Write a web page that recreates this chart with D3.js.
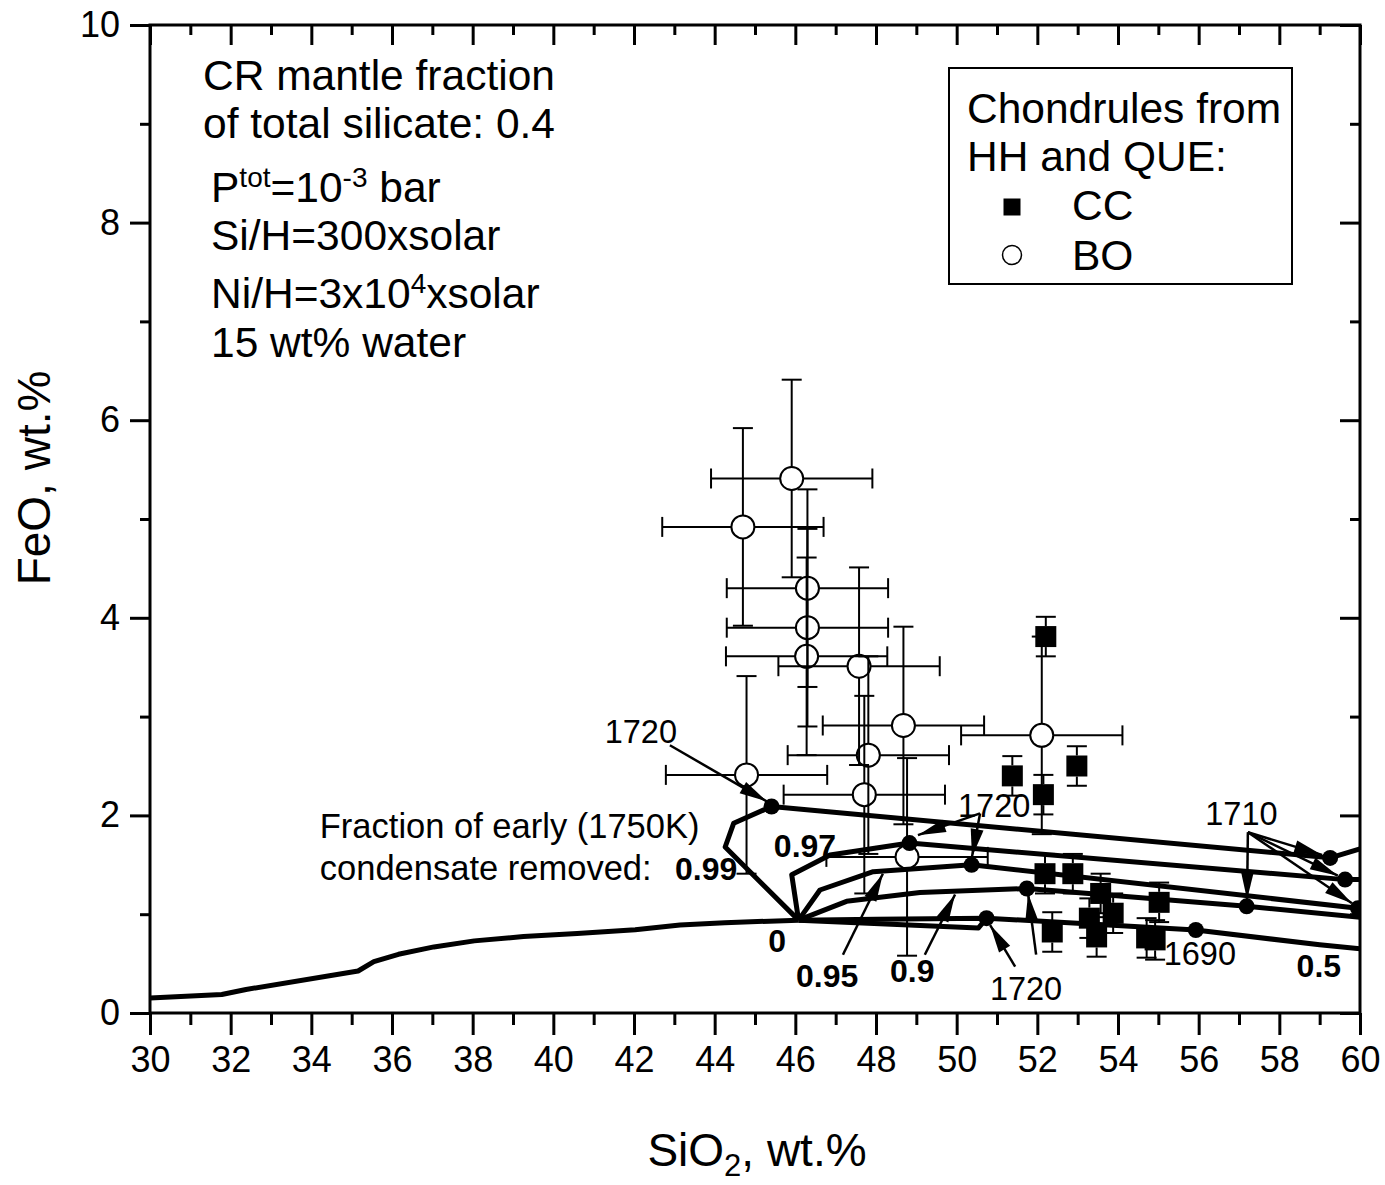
<!DOCTYPE html>
<html>
<head>
<meta charset="utf-8">
<script src="https://cdn.jsdelivr.net/npm/d3@7"></script>
<style>
  body { margin: 0; background: #fff; }
  svg text { font-family: "Liberation Sans", Arial, Helvetica, sans-serif; fill: #000; }
</style>
</head>
<body>
<svg id="chart" width="1385" height="1185"></svg>
<script>
// ---- axis ticks ----
const xMajorTicks = d3.range(30, 61, 2);
const xMinorTicks = d3.range(31, 60, 2);
const yMajorTicks = d3.range(0, 11, 2);
const yMinorTicks = d3.range(1, 10, 2);

// ---- BO chondrules (open circles): SiO2, FeO and their errors ----
const boSiO2    = [44.70, 45.91, 46.30, 46.30, 46.28, 47.58, 48.68, 47.81, 47.71, 44.79, 48.77, 52.11];
const boFeO     = [4.92, 5.41, 4.30, 3.90, 3.61, 3.51, 2.91, 2.61, 2.21, 2.41, 1.58, 2.81];
const boSiO2Err = [2.0, 2.0, 2.0, 2.0, 2.0, 2.0, 2.0, 2.0, 2.0, 2.0, 2.0, 2.0];
const boFeOErr  = [1.0, 1.0, 1.0, 1.0, 1.0, 1.0, 1.0, 1.0, 1.0, 1.0, 1.0, 1.0];

// ---- CC chondrules (filled squares) ----
const ccSiO2    = [52.21, 51.38, 52.98, 52.15, 52.19, 52.88, 53.57, 53.88, 53.29, 53.47, 52.37, 55.02, 54.71, 54.92];
const ccFeO     = [3.81, 2.40, 2.50, 2.21, 1.41, 1.41, 1.21, 1.01, 0.96, 0.77, 0.82, 1.12, 0.76, 0.74];
const ccFeOErr  = [0.2, 0.2, 0.2, 0.2, 0.2, 0.2, 0.2, 0.2, 0.2, 0.2, 0.2, 0.2, 0.2, 0.2];

// ---- condensation paths [SiO2, FeO] ----
const pathEarly = [[30.0, 0.153], [31.78, 0.187], [32.38, 0.238], [35.16, 0.425], [35.55, 0.52],
                   [36.16, 0.594], [37.04, 0.669], [38.04, 0.73], [39.26, 0.774], [40.59, 0.805],
                   [42.03, 0.842], [43.14, 0.89], [44.25, 0.914], [46.08, 0.94]];
const path0    = [[46.08, 0.94], [48.0, 0.95], [50.74, 0.96], [55.93, 0.84], [59.0, 0.69], [60.0, 0.65]];
const path05   = [[46.08, 0.94], [50.54, 0.86], [50.74, 0.96]];
const path090  = [[46.08, 0.94], [47.27, 1.13], [49.09, 1.22], [51.74, 1.26], [57.19, 1.08], [60.0, 0.97]];
const path095  = [[46.08, 0.94], [46.61, 1.245], [47.93, 1.43], [50.37, 1.50], [59.95, 1.06]];
const path097  = [[46.08, 0.94], [45.91, 1.40], [46.86, 1.60], [48.83, 1.72], [59.63, 1.35], [60.0, 1.35]];
const path099  = [[46.08, 0.94], [44.26, 1.68], [44.47, 1.92], [45.41, 2.09], [59.26, 1.57], [60.0, 1.66]];

// temperature markers on the paths
const tempDots = [[45.41, 2.09], [48.83, 1.72], [50.37, 1.50], [51.74, 1.26], [50.74, 0.96],
                  [55.93, 0.84], [57.19, 1.08], [59.26, 1.57], [59.63, 1.35], [59.95, 1.06]];

// temperature labels [text, SiO2, FeO]
const tempLabels = [["1720", 42.17, 2.73], ["1720", 50.93, 1.98], ["1720", 51.72, 0.13],
                    ["1690", 56.03, 0.49], ["1710", 57.06, 1.90]];
// removed-fraction labels [text, SiO2, FeO]
const fracLabels = [["0.99", 43.79, 1.35], ["0.97", 46.24, 1.58], ["0", 45.55, 0.62],
                    ["0.95", 46.79, 0.26], ["0.9", 48.90, 0.31], ["0.5", 58.98, 0.36]];

// arrows [fromSiO2, fromFeO, toSiO2, toFeO]
const arrows = [[42.89, 2.71, 45.30, 2.14],
                [50.58, 2.02, 49.04, 1.80],
                [50.58, 2.02, 50.38, 1.58],
                [51.45, 0.47, 50.83, 0.89],
                [51.97, 0.59, 51.77, 1.21],
                [47.18, 0.59, 48.17, 1.41],
                [49.21, 0.59, 49.96, 1.20],
                [57.22, 1.83, 57.20, 1.15],
                [57.22, 1.83, 59.06, 1.60],
                [57.22, 1.83, 59.45, 1.39],
                [57.22, 1.83, 59.80, 1.11]];

// ---------------------------------------------------------------
const svg = d3.select("#chart");
const plotL = 150, plotR = 1360, plotT = 25, plotB = 1013;
const x = d3.scaleLinear().domain([30, 60]).range([plotL, plotR]);
const y = d3.scaleLinear().domain([0, 10]).range([plotB, plotT]);

const defs = svg.append("defs");
defs.append("marker")
  .attr("id", "head")
  .attr("markerUnits", "userSpaceOnUse")
  .attr("markerWidth", 34).attr("markerHeight", 16)
  .attr("viewBox", "-32 -8 34 16")
  .attr("refX", 0).attr("refY", 0)
  .attr("orient", "auto")
  .append("path").attr("d", "M0,0 L-28,-6.5 L-28,6.5 Z").attr("fill", "#000");

defs.append("clipPath").attr("id", "plotClip")
  .append("rect").attr("x", plotL).attr("y", plotT).attr("width", plotR - plotL).attr("height", plotB - plotT);

// ---- axes ----
function styleAxis(g) {
  g.select(".domain").remove();
  g.selectAll(".tick line").attr("stroke", "#000").attr("stroke-width", 3);
}
const tickFont = 36;
svg.append("g").attr("transform", `translate(0,${plotB})`)
  .call(d3.axisBottom(x).tickValues(xMajorTicks).tickSize(22).tickPadding(11).tickFormat(d3.format("d")))
  .call(styleAxis)
  .call(g => g.selectAll("text").attr("font-size", tickFont).attr("font-family", "Liberation Sans"));
svg.append("g").attr("transform", `translate(0,${plotB})`)
  .call(d3.axisBottom(x).tickValues(xMinorTicks).tickSize(12).tickFormat(""))
  .call(styleAxis);
svg.append("g").attr("transform", `translate(${plotL},0)`)
  .call(d3.axisLeft(y).tickValues(yMajorTicks).tickSize(20).tickPadding(10).tickFormat(d3.format("d")))
  .call(styleAxis)
  .call(g => g.selectAll("text").attr("font-size", tickFont).attr("font-family", "Liberation Sans"));
svg.append("g").attr("transform", `translate(${plotL},0)`)
  .call(d3.axisLeft(y).tickValues(yMinorTicks).tickSize(10).tickFormat(""))
  .call(styleAxis);
// mirrored ticks on top and right, pointing inward
svg.append("g").attr("transform", `translate(0,${plotT})`)
  .call(d3.axisTop(x).tickValues(xMajorTicks).tickSize(-20).tickFormat(""))
  .call(styleAxis);
svg.append("g").attr("transform", `translate(0,${plotT})`)
  .call(d3.axisTop(x).tickValues(xMinorTicks).tickSize(-10).tickFormat(""))
  .call(styleAxis);
svg.append("g").attr("transform", `translate(${plotR},0)`)
  .call(d3.axisRight(y).tickValues(yMajorTicks).tickSize(-20).tickFormat(""))
  .call(styleAxis);
svg.append("g").attr("transform", `translate(${plotR},0)`)
  .call(d3.axisRight(y).tickValues(yMinorTicks).tickSize(-10).tickFormat(""))
  .call(styleAxis);

svg.append("rect").attr("x", plotL).attr("y", plotT).attr("width", plotR - plotL).attr("height", plotB - plotT)
  .attr("fill", "none").attr("stroke", "#000").attr("stroke-width", 3);

// axis titles
svg.append("text").attr("x", 757).attr("y", 1166).attr("text-anchor", "middle").attr("font-size", 46)
  .call(t => {
    t.append("tspan").text("SiO");
    t.append("tspan").attr("font-size", 31).attr("dy", 10).text("2");
    t.append("tspan").attr("dy", -10).text(", wt.%");
  });
svg.append("text").attr("transform", "translate(50,478) rotate(-90)").attr("text-anchor", "middle")
  .attr("font-size", 46).text("FeO, wt.%");

// ---- plot content ----
const plot = svg.append("g").attr("clip-path", "url(#plotClip)");
const line = d3.line().x(d => x(d[0])).y(d => y(d[1]));

// error bars
const capHalf = 10;
function errorBars(g, cx, cy, xe, ye, gap) {
  const px = x(cx), py = y(cy);
  const seg = (x1, y1, x2, y2) => g.append("line").attr("x1", x1).attr("y1", y1).attr("x2", x2).attr("y2", y2)
    .attr("stroke", "#000").attr("stroke-width", 2);
  if (ye > 0) {
    const yt = y(cy + ye), yb = y(cy - ye);
    seg(px, py - gap, px, yt); seg(px - capHalf, yt, px + capHalf, yt);
    seg(px, py + gap, px, yb); seg(px - capHalf, yb, px + capHalf, yb);
  }
  if (xe > 0) {
    const xl = x(cx - xe), xr = x(cx + xe);
    seg(px - gap, py, xl, py); seg(xl, py - capHalf, xl, py + capHalf);
    seg(px + gap, py, xr, py); seg(xr, py - capHalf, xr, py + capHalf);
  }
}

const bars = plot.append("g");
boSiO2.forEach((v, i) => errorBars(bars, v, boFeO[i], boSiO2Err[i], boFeOErr[i], 11.5));
ccSiO2.forEach((v, i) => errorBars(bars, v, ccFeO[i], 0, ccFeOErr[i], 10.5));

// condensation paths
[pathEarly, path0, path05, path090, path095, path097, path099].forEach(p => {
  plot.append("path").attr("d", line(p)).attr("fill", "none").attr("stroke", "#000")
    .attr("stroke-width", 5).attr("stroke-linejoin", "round");
});
plot.selectAll(".tdot").data(tempDots).join("circle")
  .attr("cx", d => x(d[0])).attr("cy", d => y(d[1])).attr("r", 8).attr("fill", "#000");

// markers
plot.selectAll(".bo").data(boSiO2).join("circle")
  .attr("cx", d => x(d)).attr("cy", (d, i) => y(boFeO[i])).attr("r", 11.5)
  .attr("fill", "none").attr("stroke", "#000").attr("stroke-width", 2);
plot.selectAll(".cc").data(ccSiO2).join("rect")
  .attr("x", d => x(d) - 10.5).attr("y", (d, i) => y(ccFeO[i]) - 10.5)
  .attr("width", 21).attr("height", 21).attr("fill", "#000");

// arrows
arrows.forEach(a => {
  svg.append("line").attr("x1", x(a[0])).attr("y1", y(a[1])).attr("x2", x(a[2])).attr("y2", y(a[3]))
    .attr("stroke", "#000").attr("stroke-width", 2.5).attr("marker-end", "url(#head)");
});

// labels
svg.selectAll(".tl").data(tempLabels).join("text")
  .attr("x", d => x(d[1])).attr("y", d => y(d[2])).attr("text-anchor", "middle")
  .attr("font-size", 32.5).text(d => d[0]);
svg.selectAll(".fl").data(fracLabels).join("text")
  .attr("x", d => x(d[1])).attr("y", d => y(d[2])).attr("text-anchor", "middle")
  .attr("font-size", 32).attr("font-weight", "bold").text(d => d[0]);

svg.append("text").attr("x", x(34.21)).attr("y", y(1.77)).attr("font-size", 34.5).text("Fraction of early (1750K)");
svg.append("text").attr("x", x(34.21)).attr("y", y(1.35)).attr("font-size", 34.5).text("condensate removed:");

// condition notes
const note = svg.append("g").attr("font-size", 42.5);
note.append("text").attr("x", 203).attr("y", 90).text("CR mantle fraction");
note.append("text").attr("x", 203).attr("y", 138).text("of total silicate: 0.4");
note.append("text").attr("x", 211).attr("y", 202).call(t => {
  t.append("tspan").text("P");
  t.append("tspan").attr("font-size", 28).attr("dy", -15).text("tot");
  t.append("tspan").attr("dy", 15).text("=10");
  t.append("tspan").attr("font-size", 28).attr("dy", -15).text("-3");
  t.append("tspan").attr("dy", 15).text(" bar");
});
note.append("text").attr("x", 211).attr("y", 250).text("Si/H=300xsolar");
note.append("text").attr("x", 211).attr("y", 308).call(t => {
  t.append("tspan").text("Ni/H=3x10");
  t.append("tspan").attr("font-size", 28).attr("dy", -15).text("4");
  t.append("tspan").attr("dy", 15).text("xsolar");
});
note.append("text").attr("x", 211).attr("y", 357).text("15 wt% water");

// legend
const lg = svg.append("g");
lg.append("rect").attr("x", 949).attr("y", 68).attr("width", 343).attr("height", 216)
  .attr("fill", "#fff").attr("stroke", "#000").attr("stroke-width", 2);
lg.append("text").attr("x", 967).attr("y", 123).attr("font-size", 42.5).text("Chondrules from");
lg.append("text").attr("x", 967).attr("y", 171).attr("font-size", 42.5).text("HH and QUE:");
lg.append("rect").attr("x", 1003.5).attr("y", 198.5).attr("width", 17).attr("height", 17).attr("fill", "#000");
lg.append("text").attr("x", 1072).attr("y", 220).attr("font-size", 42.5).text("CC");
lg.append("circle").attr("cx", 1012).attr("cy", 255).attr("r", 9.5).attr("fill", "#fff")
  .attr("stroke", "#000").attr("stroke-width", 1.5);
lg.append("text").attr("x", 1072).attr("y", 270).attr("font-size", 42.5).text("BO");
</script>
</body>
</html>
